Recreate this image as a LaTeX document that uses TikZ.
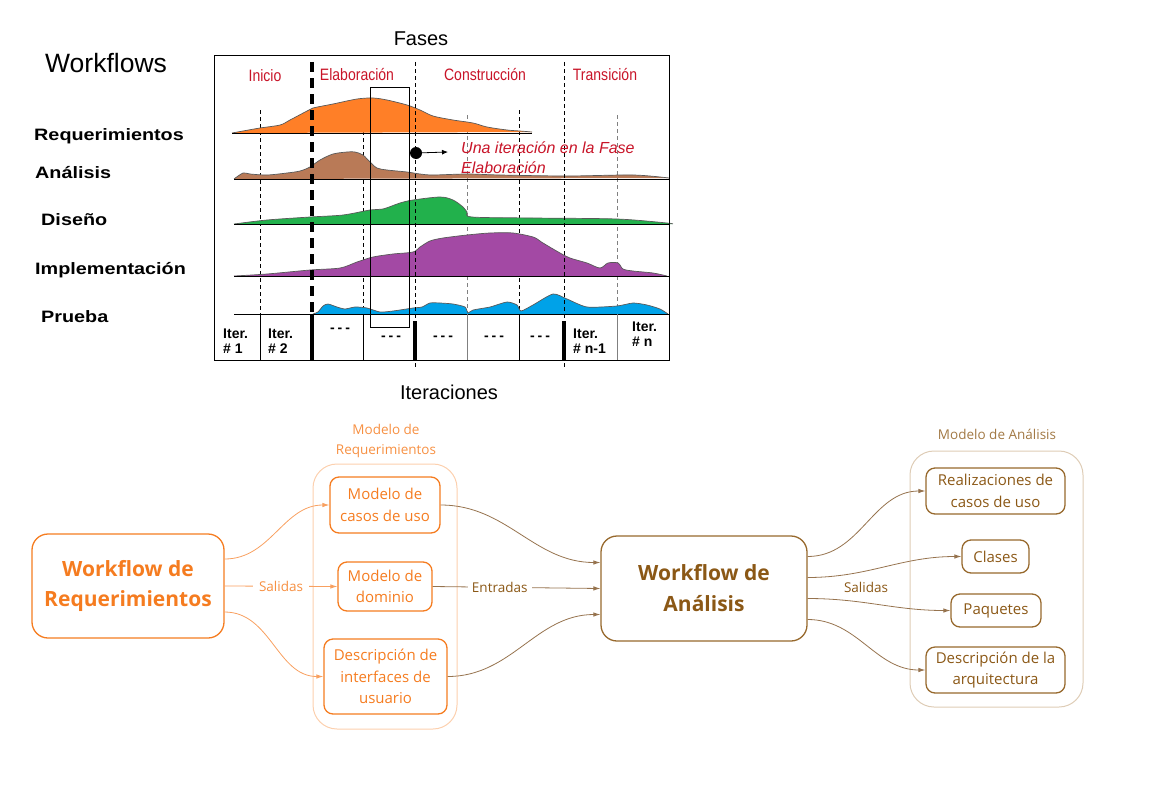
\documentclass[tikz,border=0pt]{standalone}
\usepackage{fontspec}
\usepackage{graphicx}
\setmainfont{Liberation Sans}
\newfontfamily\opensans{Open Sans}
\usetikzlibrary{arrows.meta}
\definecolor{reqorange}{RGB}{245,124,32}
\definecolor{reqlight}{RGB}{248,160,96}
\definecolor{reqpale}{RGB}{252,208,174}
\definecolor{anabrown}{RGB}{139,88,22}
\definecolor{anaedge}{RGB}{150,115,78}
\definecolor{anapale}{RGB}{222,204,182}
\definecolor{phasered}{RGB}{200,20,40}
\definecolor{wfreq}{RGB}{255,127,39}
\definecolor{wfana}{RGB}{185,122,87}
\definecolor{wfdis}{RGB}{34,177,76}
\definecolor{wfimp}{RGB}{163,73,164}
\definecolor{wfpru}{RGB}{0,162,232}
\newcommand{\fs}[2]{\fontsize{#1}{#2}\selectfont}
\newcommand{\narrow}[1]{\scalebox{0.85}[1]{#1}}
\newcommand{\wide}[1]{\scalebox{1.2}[1]{#1}}
\tikzset{
  curve/.style={draw=black!65,line width=0.7pt},
  itline/.style={dash pattern=on 4pt off 3pt,line width=0.8pt},
  phase/.style={text=phasered,font=\fs{16.5}{20}},
  wflabel/.style={anchor=west,font=\bfseries\fs{16.5}{20}},
  iterlbl/.style={anchor=west,align=left,font=\bfseries\fs{14}{15}},
  dashlbl/.style={font=\bfseries\fs{14}{15}},
  reqbox/.style={draw=reqorange,text=reqorange,rounded corners=9pt,line width=1.3pt,align=center,font=\opensans\fs{15}{21.5}},
  anabox/.style={draw=anabrown!90,text=anabrown,rounded corners=9pt,line width=1.3pt,align=center,font=\opensans\fs{15}{21.5}},
  cont/.style={rounded corners=24pt,line width=1pt},
  lbl/.style={font=\opensans\fs{13.5}{20},align=center},
  reqarrow/.style={draw=reqlight,line width=0.8pt,-{Latex[length=7pt,width=4.5pt]}},
  anaarrow/.style={draw=anaedge,line width=0.8pt,-{Latex[length=7pt,width=4.5pt]}}
}
\begin{document}
\begin{tikzpicture}[x=1pt,y=-1pt,every node/.style={inner sep=0pt}]
\useasboundingbox (0,0) rectangle (1150,784);
% iteraciones
\foreach \x in {260,363,519} \draw[itline] (\x,110) -- (\x,314);
\foreach \x in {467,617} \draw[itline,gray] (\x,115) -- (\x,314);
% workflows
\fill[wfreq] plot[smooth,tension=0.5] coordinates {(232,133) (243,131) (260,128) (280,125) (290,120) (307,111) (313,108) (333,104) (357,99) (373,98) (387,100) (407,105) (420,110) (433,116) (453,120) (473,123) (487,127) (507,130) (520,131) (532,132)} -- cycle;
\draw[curve] plot[smooth,tension=0.5] coordinates {(232,133) (243,131) (260,128) (280,125) (290,120) (307,111) (313,108) (333,104) (357,99) (373,98) (387,100) (407,105) (420,110) (433,116) (453,120) (473,123) (487,127) (507,130) (520,131) (532,132)};
\fill[wfana] plot[smooth,tension=0.5] coordinates {(234,179) (243,173) (250,174) (267,175) (287,173) (300,171) (310,167) (320,160) (333,154) (347,152) (355,152) (363,155) (370,162) (377,168) (387,170) (407,172) (420,174) (433,175) (467,174) (500,175) (567,176) (633,175) (669,178)} -- cycle;
\draw[curve] plot[smooth,tension=0.5] coordinates {(234,179) (243,173) (250,174) (267,175) (287,173) (300,171) (310,167) (320,160) (333,154) (347,152) (355,152) (363,155) (370,162) (377,168) (387,170) (407,172) (420,174) (433,175) (467,174) (500,175) (567,176) (633,175) (669,178)};
\fill[wfdis] plot[smooth,tension=0.5] coordinates {(234,224) (267,220) (310,217) (343,215) (370,210) (383,209) (400,203) (413,200) (440,197) (453,200) (463,207) (467,212) (472,217) (533,218) (617,219) (667,223) (672,224)} -- cycle;
\draw[curve] plot[smooth,tension=0.5] coordinates {(234,224) (267,220) (310,217) (343,215) (370,210) (383,209) (400,203) (413,200) (440,197) (453,200) (463,207) (467,212) (472,217) (533,218) (617,219) (667,223) (672,224)};
\fill[wfimp] plot[smooth,tension=0.5] coordinates {(234,276) (267,274) (310,270) (340,268) (357,262) (373,257) (393,254) (413,252) (420,247) (430,241) (443,238) (467,235) (490,233) (513,233) (533,237) (540,241) (543,243) (560,253) (570,258) (587,263) (600,268) (608,263) (618,263) (623,269) (633,271) (653,273) (667,276)} -- cycle;
\draw[curve] plot[smooth,tension=0.5] coordinates {(234,276) (267,274) (310,270) (340,268) (357,262) (373,257) (393,254) (413,252) (420,247) (430,241) (443,238) (467,235) (490,233) (513,233) (533,237) (540,241) (543,243) (560,253) (570,258) (587,263) (600,268) (608,263) (618,263) (623,269) (633,271) (653,273) (667,276)};
\fill[wfpru] plot[smooth,tension=0.4] coordinates {(313,314) (318,312) (323,306) (328,304) (337,307) (345,309) (355,307) (367,308) (380,312) (393,311) (413,308) (422,307) (430,303) (440,303) (453,304) (465,307) (468,313) (473,310) (490,307) (507,302) (517,305) (521,311) (533,305) (553,294) (567,299) (587,307) (617,306) (633,303) (647,305) (660,309) (668,314)} -- cycle;
\draw[curve] plot[smooth,tension=0.4] coordinates {(313,314) (318,312) (323,306) (328,304) (337,307) (345,309) (355,307) (367,308) (380,312) (393,311) (413,308) (422,307) (430,303) (440,303) (453,304) (465,307) (468,313) (473,310) (490,307) (507,302) (517,305) (521,311) (533,305) (553,294) (567,299) (587,307) (617,306) (633,303) (647,305) (660,309) (668,314)};
% lineas base
\draw[line width=0.9pt] (232,133) -- (532,133);
\foreach \y in {179,224,276,314} \draw[line width=0.9pt] (234,\y) -- (669,\y);
% fases
\draw[line width=4pt,dash pattern=on 10pt off 6pt] (312,62) -- (312,314);
\draw[line width=3.5pt] (312,314) -- (312,361);
\foreach \x in {415,564} {
  \draw[itline] (\x,62) -- (\x,368);
  \draw[line width=4pt] (\x,321) -- (\x,360);
}
\foreach \x in {260,363,519} \draw[line width=0.8pt] (\x,314) -- (\x,360);
\foreach \x in {467,617} \draw[line width=0.8pt,gray] (\x,314) -- (\x,360);
\draw[line width=0.9pt] (214,55) rectangle (669,360);
\draw[line width=0.9pt] (370,87) rectangle (409,327);
\fill (416,153) coordinate (punto) circle (6);
\coordinate (flecha) at (448,152);
\draw[line width=0.8pt,-{Latex[length=6pt,width=5pt]}] (punto) -- (flecha);
% textos
\node[anchor=west,font=\fs{26.5}{30}] (titulo) at (45,63) {Workflows};
\node[font=\fs{20}{24}] (fases) at (421,39) {Fases};
\node[font=\fs{20}{24}] (iteraciones) at (449,392) {Iteraciones};
\node[phase] (inicio) at (265,76) {\narrow{Inicio}};
\node[phase] (elab) at (357,75) {\narrow{Elaboración}};
\node[phase] (constr) at (485,75) {\narrow{Construcción}};
\node[phase] (trans) at (605,75) {\narrow{Transición}};
\node[wflabel] (wfreq) at (34,136) {\wide{Requerimientos}};
\node[wflabel] (wfana) at (35,173) {\wide{Análisis}};
\node[wflabel] (wfdis) at (41,220) {\wide{Diseño}};
\node[wflabel] (wfimp) at (35,270) {\wide{Implementación}};
\node[wflabel] (wfpru) at (41,317) {\wide{Prueba}};
\node[anchor=west,align=left,text=phasered,font=\itshape\fs{16}{20}] (nota) at (461,158) {Una iteración en la Fase\\Elaboración};
\node[iterlbl] (it1) at (223,341) {Iter.\\\# 1};
\node[iterlbl] (it2) at (268,341) {Iter.\\\# 2};
\node[iterlbl] (itn1) at (573,341) {Iter.\\\# n-1};
\node[iterlbl] (itn) at (632,334) {Iter.\\\# n};
\node[dashlbl] (d1) at (340,330) {-\hspace{3pt}-\hspace{3pt}-};
\node[dashlbl] (d2) at (391,338) {-\hspace{3pt}-\hspace{3pt}-};
\node[dashlbl] (d3) at (443,338) {-\hspace{3pt}-\hspace{3pt}-};
\node[dashlbl] (d4) at (494,338) {-\hspace{3pt}-\hspace{3pt}-};
\node[dashlbl] (d5) at (540,338) {-\hspace{3pt}-\hspace{3pt}-};
% modelo de requerimientos
\node[cont,draw=reqpale,minimum width=144pt,minimum height=265pt] (mreq) at (385,596.5) {};
\node[lbl,text=reqorange!85] (mreqlbl) at (386,441) {Modelo de\\Requerimientos};
\node[reqbox,rounded corners=16pt,minimum width=192pt,minimum height=104pt,font=\opensans\bfseries\fs{21}{30}] (wreq) at (128,586) {Workflow de\\Requerimientos};
\node[reqbox,minimum width=110pt,minimum height=56pt] (casos) at (385,505) {Modelo de\\casos de uso};
\node[reqbox,minimum width=94pt,minimum height=49pt] (dominio) at (385,586.5) {Modelo de\\dominio};
\node[reqbox,minimum width=123pt,minimum height=75pt] (interf) at (385.5,676.5) {Descripción de\\interfaces de\\usuario};
% modelo de analisis
\node[cont,draw=anapale,minimum width=173pt,minimum height=256pt] (mana) at (996.5,579) {};
\node[lbl,text=anabrown!80] (manalbl) at (997,434) {Modelo de Análisis};
\node[anabox,rounded corners=16pt,minimum width=206pt,minimum height=105pt,font=\opensans\bfseries\fs{21}{31}] (wana) at (704,588.5) {Workflow de\\Análisis};
\node[anabox,minimum width=139pt,minimum height=46pt] (real) at (995.5,491) {Realizaciones de\\casos de uso};
\node[anabox,minimum width=67pt,minimum height=33pt] (clases) at (995.5,556.5) {Clases};
\node[anabox,minimum width=90pt,minimum height=33pt] (paq) at (996,610.5) {Paquetes};
\node[anabox,minimum width=139pt,minimum height=46pt] (arq) at (995.5,670) {Descripción de la\\arquitectura};
% conectores
\draw[reqarrow] ([yshift=27pt]wreq.east) to[out=0,in=180] (casos.west);
\draw[reqarrow] (wreq.east) -- node[lbl,fill=white,inner xsep=6pt,text=reqorange!85] (salreq) {Salidas} (dominio.west);
\draw[reqarrow] ([yshift=-26pt]wreq.east) to[out=0,in=180] (interf.west);
\draw[anaarrow] (casos.east) to[out=0,in=180] ([yshift=26pt]wana.west);
\draw[anaarrow] (dominio.east) -- node[pos=0.4,lbl,fill=white,inner xsep=4pt,text=anabrown] (entradas) {Entradas} (wana.west);
\draw[anaarrow] (interf.east) to[out=0,in=180] ([yshift=-26pt]wana.west);
\draw[anaarrow] ([yshift=32pt]wana.east) to[out=0,in=180] (real.west);
\draw[anaarrow] ([yshift=11pt]wana.east) to[out=0,in=180] (clases.west);
\draw[anaarrow] ([yshift=-10pt]wana.east) to[out=0,in=180] (paq.west);
\draw[anaarrow] ([yshift=-31pt]wana.east) to[out=0,in=180] (arq.west);
\node[lbl,text=anabrown] (salana) at (866,587) {Salidas};
\end{tikzpicture}
\end{document}
